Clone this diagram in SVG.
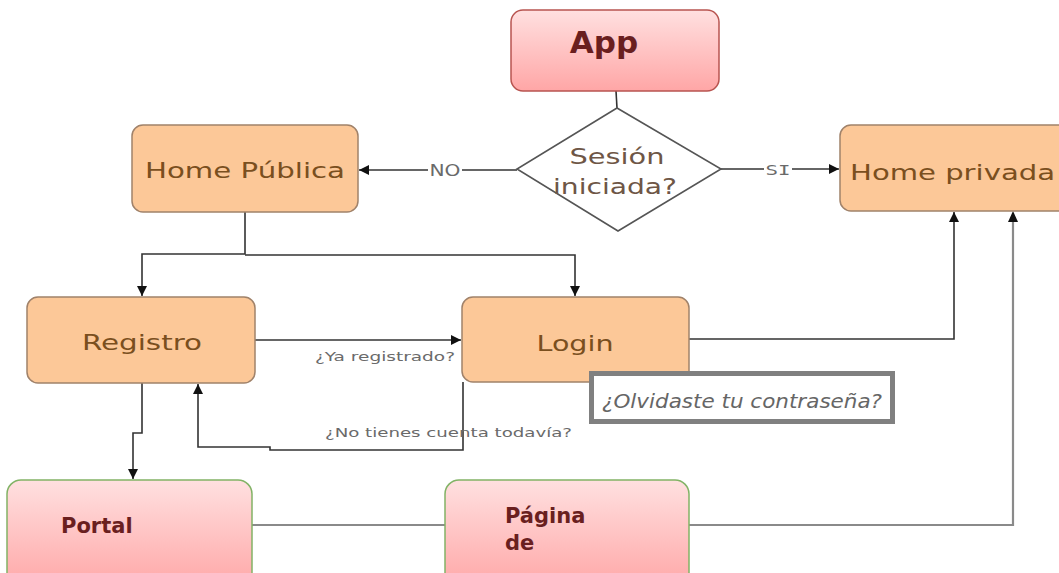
<svg xmlns="http://www.w3.org/2000/svg" width="1059" height="573" viewBox="0 0 1059 573">
<defs>
<linearGradient id="pink" x1="0" y1="0" x2="0" y2="1">
<stop offset="0" stop-color="#ffe0e0"/>
<stop offset="1" stop-color="#ffa6a6"/>
</linearGradient>
<marker id="arr" viewBox="0 0 10 10" refX="10" refY="5" markerWidth="10" markerHeight="10" markerUnits="userSpaceOnUse" orient="auto">
<path d="M0,0 L10,5 L0,10 z" fill="#111"/>
</marker>
<style>
.orange{fill:#fcc898;stroke:#a0826a;stroke-width:1.5}
.pinkR{fill:url(#pink);stroke:#b85450;stroke-width:1.5}
.pinkG{fill:url(#pink);stroke:#82b366;stroke-width:1.5}
.lbl{font-family:"DejaVu Sans",sans-serif;font-size:22px;fill:#7a4f1e}
.dlbl{font-family:"DejaVu Sans",sans-serif;font-size:22px;fill:#6e5646}
.bold{font-family:"DejaVu Sans",sans-serif;font-weight:bold;fill:#6a1f1f}
.edge{fill:none;stroke:#333;stroke-width:1.6}
.gedge{fill:none;stroke:#8a8a8a;stroke-width:2.2}
.elbl{font-family:"DejaVu Sans",sans-serif;font-size:13px;fill:#6a6a6a}
</style>
</defs>
<rect width="1059" height="573" fill="#ffffff"/>
<g id="connectors">
<line class="edge" x1="616" y1="91" x2="617" y2="108"/>
<line class="edge" x1="517" y1="170" x2="359" y2="170" marker-end="url(#arr)"/>
<rect x="428" y="162" width="34" height="16" fill="#fff"/>
<text class="elbl" x="445" y="176" text-anchor="middle" style="font-size:15px" textLength="31" lengthAdjust="spacingAndGlyphs">NO</text>
<line class="edge" x1="721" y1="169" x2="839" y2="169" marker-end="url(#arr)"/>
<rect x="764" y="161" width="28" height="16" fill="#fff"/>
<text class="elbl" x="778" y="175" text-anchor="middle" style="font-family:'DejaVu Sans Mono',monospace;font-size:14px" textLength="25" lengthAdjust="spacingAndGlyphs">SI</text>
<path class="edge" d="M245,212 V254 H142 V296" marker-end="url(#arr)"/>
<path class="edge" d="M245,255 H575 V296" marker-end="url(#arr)"/>
<line class="edge" x1="255" y1="340" x2="461" y2="340" marker-end="url(#arr)"/>
<text class="elbl" x="315" y="361" textLength="140" lengthAdjust="spacingAndGlyphs">¿Ya registrado?</text>
<path class="edge" d="M463,382 V450 H270 V447 H198 V384" marker-end="url(#arr)"/>
<text class="elbl" x="325" y="437" textLength="247" lengthAdjust="spacingAndGlyphs">¿No tienes cuenta todavía?</text>
<path class="edge" d="M142,383 V433 H133 V479" marker-end="url(#arr)"/>
<path class="edge" d="M689,339 H954 V212" marker-end="url(#arr)"/>
<line class="gedge" x1="252" y1="525" x2="445" y2="525"/>
<path class="gedge" d="M689,525 H1013 V220"/>
<path d="M1008,222 L1013,211 L1018,222 z" fill="#111"/>
</g>
<g id="app">
<rect class="pinkR" x="511" y="10" width="208" height="81" rx="12"/>
<text class="bold" x="604" y="53" text-anchor="middle" font-size="31">App</text>
</g>
<g id="sesion">
<polygon points="617,108 721,169 618,231 517,169" fill="#fff" stroke="#555" stroke-width="1.6"/>
<text class="dlbl" x="617" y="164" text-anchor="middle" textLength="95" lengthAdjust="spacingAndGlyphs">Sesión</text>
<text class="dlbl" x="615" y="194" text-anchor="middle" textLength="124" lengthAdjust="spacingAndGlyphs">iniciada?</text>
</g>
<g id="home-publica">
<rect class="orange" x="132" y="125" width="226" height="87" rx="11"/>
<text class="lbl" x="245" y="178" text-anchor="middle" textLength="200" lengthAdjust="spacingAndGlyphs">Home Pública</text>
</g>
<g id="home-privada">
<rect class="orange" x="840" y="125" width="230" height="86" rx="11"/>
<text class="lbl" x="850" y="180" textLength="205" lengthAdjust="spacingAndGlyphs">Home privada</text>
</g>
<g id="registro">
<rect class="orange" x="27" y="297" width="228" height="86" rx="11"/>
<text class="lbl" x="142" y="350" text-anchor="middle" textLength="120" lengthAdjust="spacingAndGlyphs">Registro</text>
</g>
<g id="login">
<rect class="orange" x="462" y="297" width="227" height="85" rx="11"/>
<text class="lbl" x="575" y="351" text-anchor="middle" textLength="77" lengthAdjust="spacingAndGlyphs">Login</text>
</g>
<g id="olvidaste">
<rect x="591.5" y="373.5" width="301" height="48" fill="#fff" stroke="#808080" stroke-width="5"/>
<text x="602" y="408" font-family="DejaVu Sans, sans-serif" font-style="italic" font-size="19" fill="#666" textLength="280" lengthAdjust="spacingAndGlyphs">¿Olvidaste tu contraseña?</text>
</g>
<g id="portal">
<rect class="pinkG" x="7" y="480" width="245" height="110" rx="14"/>
<text class="bold" x="61" y="533" font-size="21">Portal</text>
</g>
<g id="pagina">
<rect class="pinkG" x="445" y="480" width="244" height="110" rx="14"/>
<text class="bold" x="505" y="523" font-size="21">Página</text>
<text class="bold" x="505" y="550" font-size="21">de</text>
</g>
</svg>
